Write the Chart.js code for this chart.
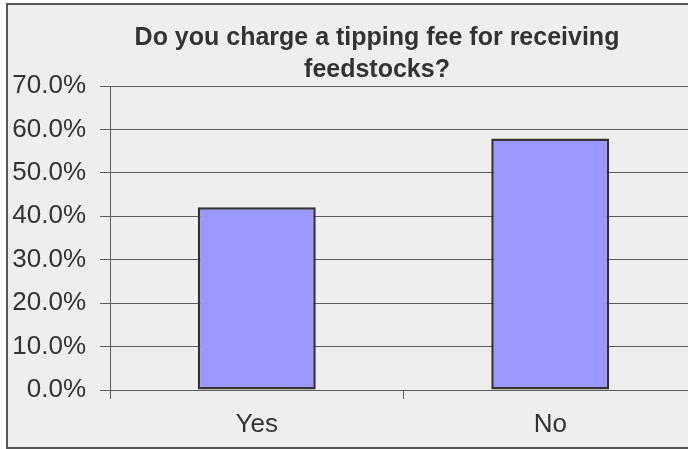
<!DOCTYPE html>
<html>
<head>
<meta charset="utf-8">
<script src="https://cdn.jsdelivr.net/npm/chart.js@4"></script>
<style>
  html, body { margin: 0; padding: 0; background: #ffffff; overflow: hidden; width: 688px; height: 449px; }
  #frame { position: absolute; left: 6px; top: 3px; width: 682px; height: 442px; background: #eeeeee;
           border: 2px solid #555555; border-right: none; }
  #wrap { position: absolute; left: 0; top: 0; width: 754px; height: 449px; }
</style>
</head>
<body>
<div id="frame"></div>
<div id="wrap"><canvas id="feeChart" width="754" height="449"></canvas></div>
<script>
const categories = ['Yes', 'No'];
const responseShare = [42.1, 57.9];
const yTicks = [0, 10, 20, 30, 40, 50, 60, 70];

const font = "'Liberation Sans', Arial, sans-serif";

new Chart(document.getElementById('feeChart').getContext('2d'), {
    type: 'bar',
    data: {
        labels: categories,
        datasets: [{
            data: responseShare,
            backgroundColor: '#9999ff',
            borderColor: '#333333',
            borderWidth: 2.5,
            borderSkipped: false,
            categoryPercentage: 1,
            barPercentage: 0.402
        }]
    },
    options: {
        responsive: false,
        animation: false,
        layout: { padding: 0 },
        plugins: {
            legend: { display: false },
            tooltip: { enabled: false },
            title: {
                display: true,
                text: ['Do you charge a tipping fee for receiving', 'feedstocks?'],
                color: '#333333',
                font: { family: font, size: 25, weight: 'bold', lineHeight: 1.28 },
                padding: { top: 22, bottom: 0 }
            }
        },
        scales: {
            x: {
                afterFit: scale => { scale.height = 59; },
                grid: {
                    offset: true,
                    drawOnChartArea: false,
                    color: '#5c5c5c',
                    tickLength: 9
                },
                border: { color: '#5c5c5c' },
                ticks: {
                    color: '#333333',
                    font: { family: font, size: 26 },
                    padding: 10
                }
            },
            y: {
                min: 0,
                max: 70,
                afterFit: scale => { scale.width = 110; },
                afterBuildTicks: scale => {
                    scale.ticks = yTicks.map(v => ({ value: v }));
                },
                grid: {
                    color: '#5c5c5c',
                    tickLength: 10
                },
                border: { color: '#5c5c5c' },
                ticks: {
                    color: '#333333',
                    font: { family: font, size: 26 },
                    padding: 14,
                    callback: value => value.toFixed(1) + '%'
                }
            },
            // empty right-hand axis: reserves space so the plot ends at the same place
            // while the title stays centred on the whole canvas
            spacer: {
                type: 'linear',
                position: 'right',
                afterFit: scale => { scale.width = 57; },
                grid: { display: false },
                border: { display: false },
                ticks: { display: false }
            }
        }
    }
});
</script>
</body>
</html>
